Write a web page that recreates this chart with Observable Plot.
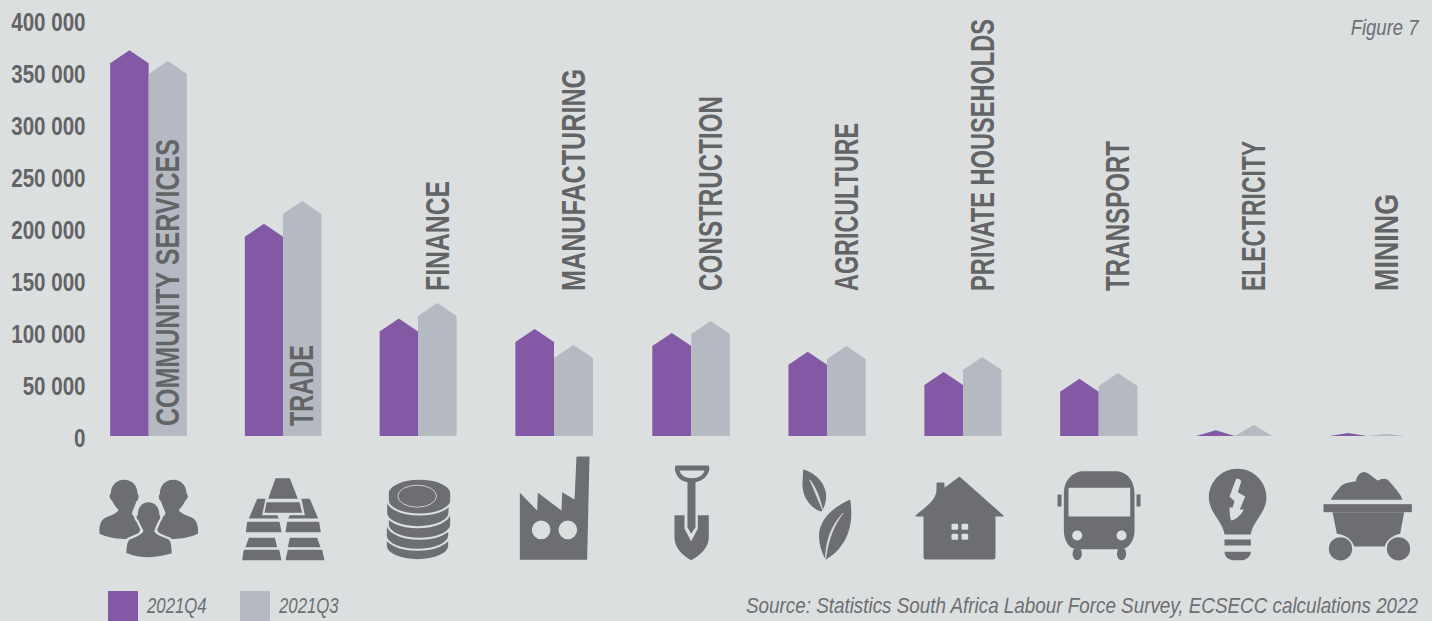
<!DOCTYPE html>
<html>
<head>
<meta charset="utf-8">
<script src="https://cdn.jsdelivr.net/npm/d3@7"></script>
<script src="https://cdn.jsdelivr.net/npm/@observablehq/plot@0.6"></script>
<style>
  html, body { margin: 0; padding: 0; background: #dcdfe0; overflow: hidden; }
  #chart svg { display: block; background: transparent; }
  #foot { position: relative; height: 30px; font: italic 21.5px "Liberation Sans", sans-serif; color: #6d6e71; }
  #foot .sw { position: absolute; top: 0; width: 30px; height: 30px; }
  #foot .lb { position: absolute; top: 3px; line-height: 24px; white-space: nowrap; transform: scaleX(0.78); transform-origin: left center; }
  #foot .src { position: absolute; right: 14px; top: 3px; line-height: 24px; white-space: nowrap; font-size: 22px; transform: scaleX(0.856); transform-origin: right center; }
</style>
</head>
<body>
<div id="chart"></div>
<div id="foot"></div>
<script>
// Employment by industry, two quarters, in number of workers.
const industries = ["COMMUNITY SERVICES", "TRADE", "FINANCE", "MANUFACTURING", "CONSTRUCTION",
  "AGRICULTURE", "PRIVATE HOUSEHOLDS", "TRANSPORT", "ELECTRICITY", "MINING"];
const q4Values = [371000, 204000, 113000, 103000, 99000, 81000, 61500, 55000, 5500, 3000];
const q3Values = [360500, 226000, 128000, 87500, 110500, 86500, 76000, 60500, 10500, 2000];
const seriesNames = ["2021Q4", "2021Q3"];
const yTicks = [0, 50000, 100000, 150000, 200000, 250000, 300000, 350000, 400000];
const figureLabel = "Figure 7";
const sourceNote = "Source: Statistics South Africa Labour Force Survey, ECSECC calculations 2022";

const ink = "#6d6e71";
const paper = "#dcdfe0";
const purple = "#8358a5";
const silver = "#b5bac2";
const textFont = '"Liberation Sans", sans-serif';

// Each glyph is authored in its own coordinate box and placed on the category axis.
const glyphs = [
  // people
  ["12 75 390 330", (() => {
    const back = "M132 148C158 148 172 168 172 190C178 196 175 208 168 214C164 228 158 238 155 248C160 262 175 268 190 275L175 310L135 326C100 325 75 318 58 310C56 290 60 270 75 262C95 254 112 248 115 238C108 230 100 222 97 212C88 206 85 196 92 188C92 166 108 148 132 148Z";
    return `<path d="${back}"/><path d="${back}" transform="translate(411,0) scale(-1,1)"/>` +
      `<path stroke="${paper}" stroke-width="7" d="M205 212C228 212 241 232 241 252C246 258 243 268 238 272C234 284 228 292 226 302C230 312 250 316 268 324C276 330 278 350 278 372C250 378 230 384 205 384C180 384 155 378 135 370C135 350 136 332 146 324C165 316 182 312 186 302C183 292 176 284 172 272C166 268 163 258 169 252C169 232 182 212 205 212Z"/>`;
  })()],
  // gold bars
  ["414 75 390 330", `<path d="M585 143H628L652 205H563ZM558 215H657L665 247H552ZM530 205H555L545 254H590L595 264H505ZM688 205H663L673 254H628L623 264H713ZM500 274H597L603 305H496ZM620 274H716L721 305H615ZM505 322H583L590 350H495ZM628 322H710L720 350H622ZM490 358H596L603 389H485ZM622 358H725L732 389H615Z"/>`],
  // coins
  ["819 75 390 330", [[1011, 389], [1011, 358], [1017, 325], [1012, 290], [1017, 252]].map(([x, b]) => {
    const t = b - 64, rx = 95;
    return `<path stroke="${paper}" stroke-width="6" d="M${x - rx} ${t}A${rx} 43 0 0 1 ${x + rx} ${t}V${t + 21}A${rx} 43 0 0 1 ${x - rx} ${t + 21}Z"/>`;
  }).join("") + `<ellipse cx="1010" cy="197" rx="58" ry="33" fill="none" stroke="${paper}" stroke-width="2.5"/>`],
  // factory
  ["-33 75 390 330", `<path fill-rule="evenodd" d="M58 187L110 240L112 187L183 240L185 185L222 207L228 78H267L260 388H58ZM94 298A28 28 0 1 0 150 298A28 28 0 1 0 94 298ZM174 298A28 28 0 1 0 230 298A28 28 0 1 0 174 298Z"/>`],
  // shovel
  ["379 75 390 330", `<path fill-rule="evenodd" d="M525 105H625L627 115C622 140 605 152 585 155V290L572 310L561 290V155C540 152 527 140 523 115ZM537 120H612C608 135 595 143 575 143C555 143 541 135 537 120Z"/><path d="M522 254H552V295L572 332L592 295V254H625V320C625 350 600 375 572 389C545 375 522 350 522 320Z"/>`],
  // leaves
  ["786 75 390 330", `<path d="M908 117C940 125 975 155 977 195C977 215 970 235 963 243C930 235 905 200 906 160Z"/><path fill="${paper}" d="M928 148C945 170 958 200 966 238C952 205 940 175 928 148Z" stroke="${paper}" stroke-width="2"/><path d="M1049 207C1058 260 1055 340 975 388C955 350 950 310 962 285C975 250 1010 225 1049 207Z"/><path fill="${paper}" d="M1028 248C1000 285 985 320 975 385C975 340 990 285 1028 248Z" stroke="${paper}" stroke-width="2"/>`],
  // house
  ["1194 75 390 330", `<path d="M1245 255C1280 225 1308 210 1308 175V160Q1308 156 1312 156H1328Q1332 156 1332 160V172L1377 138L1509 255V258H1485V380Q1485 387 1478 387H1276Q1269 387 1269 380V258H1245Z"/><g fill="${paper}"><rect x="1353" y="280" width="20" height="18" rx="4"/><rect x="1383" y="280" width="20" height="18" rx="4"/><rect x="1353" y="310" width="20" height="18" rx="4"/><rect x="1383" y="310" width="20" height="18" rx="4"/></g>`],
  // bus
  ["11 135 390 330", `<path fill-rule="evenodd" d="M100 250C100 205 130 182 160 182H255C285 182 312 205 312 250V360C312 390 295 416 270 416H140C115 416 100 390 100 360ZM114 232V318H299V232Z"/><rect x="81" y="252" width="12" height="36"/><rect x="318" y="252" width="12" height="36"/><circle cx="140" cy="375" r="15" fill="${paper}"/><circle cx="273" cy="375" r="15" fill="${paper}"/><ellipse cx="140" cy="430" rx="14" ry="19"/><ellipse cx="273" cy="430" rx="14" ry="19"/>`],
  // light bulb
  ["420 135 390 330", `<path d="M535 262C535 215 572 175 621 175C670 175 708 215 708 262C708 305 665 335 661 372H582C578 335 535 305 535 262Z"/><rect x="582" y="387" width="79" height="18"/><path d="M582 424H661C661 440 645 449 635 449H608C595 449 582 440 582 424Z"/><path fill="${paper}" d="M617 205C625 203 632 208 632 214L622 245L644 258L628 298L640 296C635 310 615 328 603 330C598 325 597 300 597 290L606 292L612 272L597 258Z"/>`],
  // mine cart
  ["815 135 390 330", `<path d="M900 268C905 255 920 240 932 225C945 215 960 215 975 212C978 195 990 183 1003 185C1020 190 1030 205 1042 210C1050 205 1065 200 1075 212C1090 230 1110 250 1115 268Z"/><rect x="878" y="281" width="265" height="24"/><path d="M905 305H1120L1108 370C1085 375 1065 390 1062 408H970C965 390 945 372 918 370Z"/><circle cx="929" cy="415" r="35"/><circle cx="1103" cy="415" r="35"/>`]
];
const glyphSrc = glyphs.map(([box, body]) =>
  "data:image/svg+xml," + encodeURIComponent(
    `<svg xmlns="http://www.w3.org/2000/svg" viewBox="${box}" width="130" height="110"><g fill="${ink}">${body}</g></svg>`));

// Bars are arrow-shaped: flat sides, then a peak whose tip sits at the value.
const barWidth = 0.284;
const peakDrop = 12500;
function arrow(i, value, series, left) {
  const shoulder = Math.max(0, value - peakDrop);
  const key = series + i;
  return [
    {key, series, x: i + left, y: shoulder},
    {key, series, x: i + left + barWidth / 2, y: value},
    {key, series, x: i + left + barWidth, y: shoulder}
  ];
}
const arrows = industries.flatMap((_, i) => [
  ...arrow(i, q4Values[i], seriesNames[0], -barWidth),
  ...arrow(i, q3Values[i], seriesNames[1], 0)
]);
const rows = industries.map((name, i) => ({name, i}));

const chart = Plot.plot({
  width: 1432,
  height: 591,
  marginTop: 20,
  marginRight: 14,
  marginBottom: 155,
  marginLeft: 85,
  style: {background: "transparent"},
  x: {
    type: "linear",
    domain: [-1, 0, 1, 2, 3, 4, 5, 6, 7, 8, 9, 10],
    range: [13, 148.7, 283, 418, 554, 691.3, 827, 963, 1098.7, 1235, 1367, 1503],
    axis: null
  },
  y: {domain: [0, 400000], range: [436, 20], axis: null},
  color: {domain: seriesNames, range: [purple, silver]},
  marks: [
    Plot.areaY(arrows, {x: "x", y1: 0, y2: "y", z: "key", fill: "series", curve: "linear"}),
    Plot.axisY(yTicks, {
      anchor: "left",
      tickSize: 0,
      tickPadding: 0,
      dy: 2,
      tickFormat: d => d3.format(",")(d).replace(/,/g, " "),
      fontFamily: textFont,
      fontWeight: 700,
      fontSize: 26,
      fill: "#636466",
      label: null
    }),
    Plot.text(rows, {
      x: d => d.i + barWidth / 2,
      y: d => d.i < 2 ? 10000 : 140000,
      text: "name",
      rotate: -90,
      textAnchor: "start",
      fontFamily: textFont,
      fontWeight: 700,
      fontSize: 33.5,
      fill: "#636466"
    }),
    Plot.image(rows, {
      x: "i",
      y: 0,
      dy: 74,
      width: 130,
      height: 110,
      src: d => glyphSrc[d.i]
    }),
    Plot.text([figureLabel], {
      frameAnchor: "top-right",
      dy: -1,
      fontFamily: textFont,
      fontStyle: "italic",
      fontSize: 21.5,
      fill: ink
    })
  ]
});
document.getElementById("chart").append(chart);

// The typeface is set condensed: texts are squeezed to a narrower running length.
const nameLengths = [287, 81, 110, 222, 195, 168, 272, 150, 150, 97];
chart.querySelectorAll("text").forEach(t => {
  const content = t.textContent;
  const nameIndex = industries.indexOf(content);
  const length = nameIndex >= 0 ? nameLengths[nameIndex]
    : t.getComputedTextLength() * (content === figureLabel ? 0.86 : 0.79);
  t.setAttribute("textLength", length);
  t.setAttribute("lengthAdjust", "spacingAndGlyphs");
});

// Legend and source line under the chart.
const foot = document.getElementById("foot");
const swatchLeft = [108, 240];
seriesNames.forEach((name, i) => {
  const sw = document.createElement("div");
  sw.className = "sw";
  sw.style.left = swatchLeft[i] + "px";
  sw.style.background = [purple, silver][i];
  const lb = document.createElement("div");
  lb.className = "lb";
  lb.style.left = swatchLeft[i] + 39 + "px";
  lb.textContent = name;
  foot.append(sw, lb);
});
const src = document.createElement("div");
src.className = "src";
src.textContent = sourceNote;
foot.append(src);
</script>
</body>
</html>
